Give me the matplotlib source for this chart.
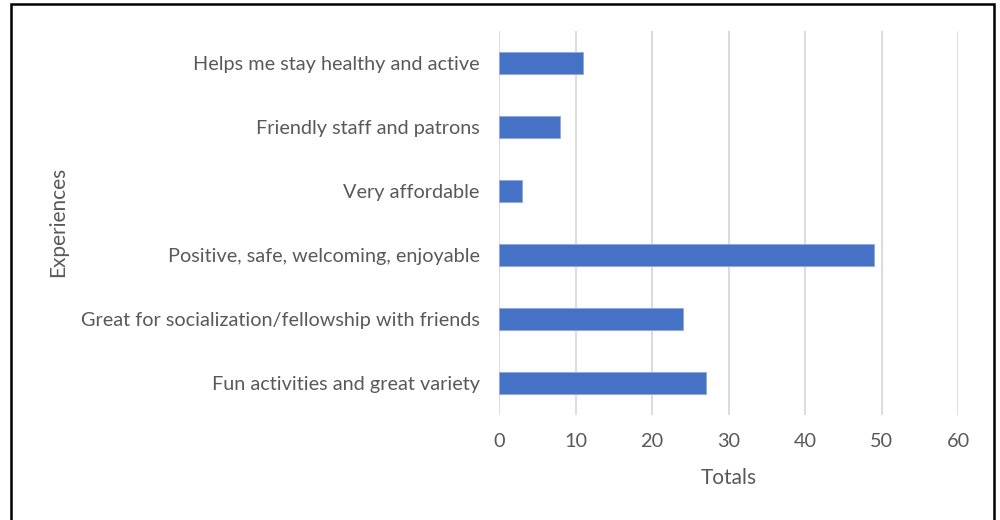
import matplotlib.pyplot as plt
from matplotlib.patches import Rectangle

# Survey responses: what people liked about the centre
experiences = [
    "Fun activities and great variety",
    "Great for socialization/fellowship with friends",
    "Positive, safe, welcoming, enjoyable",
    "Very affordable",
    "Friendly staff and patrons",
    "Helps me stay healthy and active",
]
totals = [27, 24, 49, 3, 8, 11]
x_ticks = [0, 10, 20, 30, 40, 50, 60]

text_color = "#595959"
plt.rcParams["font.family"] = ["Lato", "DejaVu Sans"]

fig = plt.figure(figsize=(10, 5.2), dpi=100)
ax = fig.add_axes([0.499, 0.202, 0.459, 0.738])

ax.barh(range(len(experiences)), totals, height=0.34, color="#4472C4",
        edgecolor="#8faadc", linewidth=0.6, zorder=3)

ax.set_xlim(0, 60)
ax.set_ylim(-0.5, len(experiences) - 0.5)
ax.set_xticks(x_ticks)
ax.set_yticks(range(len(experiences)))
ax.set_yticklabels(experiences)
ax.tick_params(axis="both", length=0, labelsize=14.3, colors=text_color)
ax.tick_params(axis="x", pad=13)
ax.tick_params(axis="y", pad=14)
ax.grid(axis="x", color="#d9d9d9", linewidth=1.3, zorder=0)
for s in ax.spines.values():
    s.set_visible(False)

ax.set_xlabel("Totals", fontsize=15, color=text_color, labelpad=13)
fig.text(0.058, 0.573, "Experiences", rotation=90, fontsize=15,
         color=text_color, ha="center", va="center")

# outer frame around the whole chart
fig.patches.append(Rectangle((0.011, -0.05), 0.983, 1.042, transform=fig.transFigure,
                             fill=False, edgecolor="black", linewidth=1.8))

fig.savefig("out.png", dpi=100)
